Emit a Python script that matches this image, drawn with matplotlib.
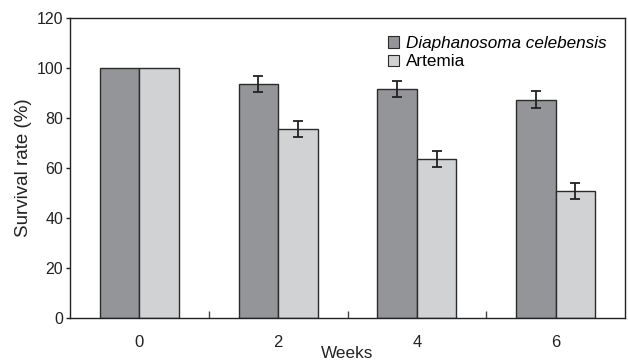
import numpy as np
import matplotlib
matplotlib.use("Agg")
from matplotlib import pyplot as plt
from matplotlib.patches import Patch

weeks = ['0', '2', '4', '6']
diaphanosoma = [100, 93.6, 91.6, 87.3]
diaphanosoma_err = [0, 3.3, 3.3, 3.4]
artemia = [100, 75.6, 63.7, 50.9]
artemia_err = [0, 3.3, 3.2, 3.2]

dark = '#939598'
light = '#d1d2d4'
edge = '#2b2b2b'

plt.rcParams['font.family'] = ['Liberation Sans', 'DejaVu Sans']

fig = plt.figure(figsize=(6.28, 3.63), dpi=100)
ax = fig.add_axes([70/628, 1 - 318/363, 555/628, 300/363])

x = np.arange(len(weeks))
w = 0.285
ax.bar(x - w/2, diaphanosoma, w, color=dark, edgecolor=edge, linewidth=1.0)
ax.bar(x + w/2, artemia, w, color=light, edgecolor=edge, linewidth=1.0)
# error bars only where nonzero
for i in range(1, len(weeks)):
    ax.errorbar(x[i] - w/2, diaphanosoma[i], yerr=diaphanosoma_err[i], fmt='none',
                ecolor='#222222', elinewidth=1.3, capsize=3.8, capthick=1.3)
    ax.errorbar(x[i] + w/2, artemia[i], yerr=artemia_err[i], fmt='none',
                ecolor='#222222', elinewidth=1.3, capsize=3.8, capthick=1.3)

ax.set_xlim(-0.5, 3.5)
ax.set_ylim(0, 120)
ax.set_yticks(range(0, 121, 20))
ax.set_xticks(x)
ax.set_xticklabels(weeks)
ax.set_xticks(x[:-1] + 0.5, minor=True)
ax.tick_params(axis='x', which='major', length=0, pad=12, labelsize=12, colors='#222222')
ax.tick_params(axis='x', which='minor', direction='in', length=5, width=1.0, color='#444444')
ax.tick_params(axis='y', direction='out', length=3, width=1.0, pad=2, labelsize=11.5, colors='#222222')
for s in ax.spines.values():
    s.set_color('#222222')
    s.set_linewidth(1.0)

ax.set_ylabel('Survival rate (%)', fontsize=13.5, color='#222222', labelpad=3)
ax.set_xlabel('Weeks', fontsize=12.3, color='#222222', labelpad=-3)

handles = [Patch(facecolor=dark, edgecolor=edge, linewidth=0.8),
           Patch(facecolor=light, edgecolor=edge, linewidth=0.8)]
leg = ax.legend(handles, ['Diaphanosoma celebensis', 'Artemia'], loc='upper right',
                frameon=False, fontsize=12.3, handlelength=0.65, handleheight=0.65,
                handletextpad=0.45, labelspacing=0.2, borderaxespad=0.65)
leg.get_texts()[0].set_style('italic')

fig.savefig('out.png', dpi=100)
